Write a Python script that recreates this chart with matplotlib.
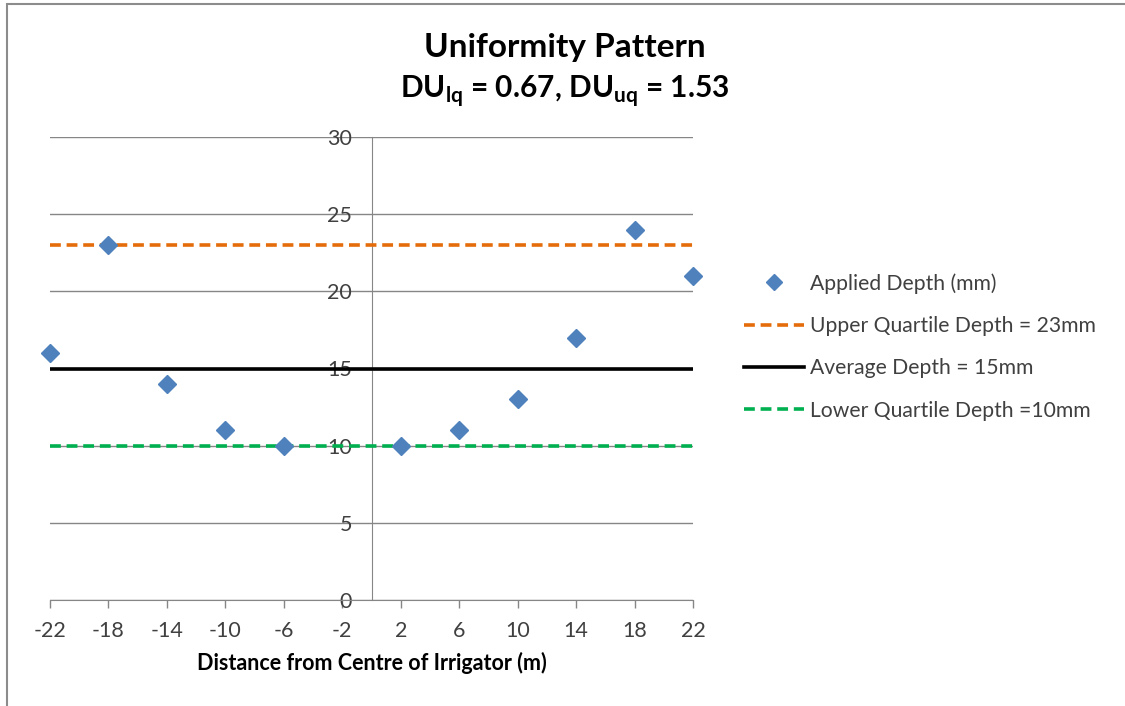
import matplotlib.pyplot as plt
from matplotlib.patches import Rectangle

plt.rcParams['font.family'] = ['Lato', 'DejaVu Sans']
plt.rcParams['mathtext.fontset'] = 'custom'
plt.rcParams['mathtext.bf'] = 'Lato:bold'
plt.rcParams['mathtext.rm'] = 'Lato'
plt.rcParams['axes.unicode_minus'] = False

# data
distance = [-22, -18, -14, -10, -6, 2, 6, 10, 14, 18, 22]
applied_depth = [16, 23, 14, 11, 10, 10, 11, 13, 17, 24, 21]
upper_quartile = 23
average_depth = 15
lower_quartile = 10
x_ticks = [-22, -18, -14, -10, -6, -2, 2, 6, 10, 14, 18, 22]
y_ticks = [0, 5, 10, 15, 20, 25, 30]

blue = '#4F81BD'
orange = '#E46C0A'
green = '#00B050'
grid_col = '#868686'

fig = plt.figure(figsize=(11.25, 7.06), dpi=100)
ax = fig.add_axes([50/1125, 106/706, 643/1125, 463/706])

# chart border
fig.patches.append(Rectangle((7/1125, -0.1), 1.2, (706-4)/706 + 0.1, transform=fig.transFigure,
                             fill=False, edgecolor='#8c8c8c', linewidth=1.5))

x_ends = [distance[0], distance[-1]]
ax.plot(x_ends, [upper_quartile]*2, color=orange, lw=2.6, dashes=(3, 1.6),
        label='Upper Quartile Depth = 23mm', zorder=3)
ax.plot(x_ends, [average_depth]*2, color='black', lw=2.6,
        label='Average Depth = 15mm', zorder=3)
ax.plot(x_ends, [lower_quartile]*2, color=green, lw=2.6, dashes=(3, 1.6),
        label='Lower Quartile Depth =10mm', zorder=3)
ax.plot(distance, applied_depth, linestyle='none', marker='D', markersize=9,
        color=blue, label='Applied Depth (mm)', clip_on=False, zorder=4)

ax.set_xlim(-22, 22)
ax.set_ylim(0, 30)
ax.set_xticks(x_ticks)
ax.set_yticks(y_ticks)

for s in ['top', 'right']:
    ax.spines[s].set_visible(False)
ax.spines['left'].set_position(('data', 0))
ax.spines['left'].set_color(grid_col)
ax.spines['bottom'].set_color(grid_col)
ax.yaxis.grid(True, color=grid_col, lw=1)
ax.set_axisbelow(True)

ax.tick_params(axis='y', length=0, pad=14, labelsize=15.5, labelcolor='#404040')
ax.tick_params(axis='x', length=6, width=1, color=grid_col, pad=9, labelsize=15.5,
               labelcolor='#404040')

ax.set_xlabel('Distance from Centre of Irrigator (m)', fontsize=15.5, fontweight='bold', labelpad=8)

fig.text(0.502, 1 - 47/706, 'Uniformity Pattern', ha='center', va='center',
         fontsize=24, fontweight='bold')
fig.text(0.502, 1 - 91/706, r'DU$_{\mathbf{lq}}$ = 0.67, DU$_{\mathbf{uq}}$ = 1.53',
         ha='center', va='center', fontsize=21.5, fontweight='bold')

h, l = ax.get_legend_handles_labels()
order = [3, 0, 1, 2]
ax.legend([h[i] for i in order], [l[i] for i in order], loc='center left',
          bbox_to_anchor=(725/1125, 1 - 347/706), bbox_transform=fig.transFigure,
          frameon=False, fontsize=15.2, handlelength=2.85, handletextpad=0.3,
          labelspacing=1.06, labelcolor='#404040', markerscale=0.85)

fig.savefig('out.png', dpi=100)
